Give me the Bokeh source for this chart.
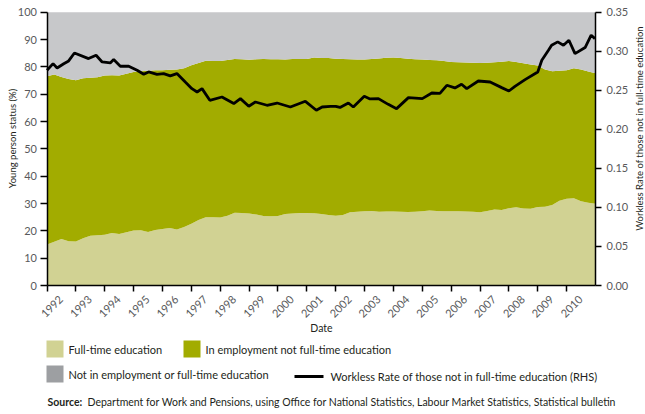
import numpy as np
from bokeh.plotting import figure
from bokeh.models import Range1d, LinearAxis, FixedTicker, NumeralTickFormatter, ColumnDataSource
from bokeh.core.properties import value
from bokeh.embed import file_html
from bokeh.resources import INLINE

FONT = "Lato"

# quarterly dates 1992 Q1 .. 2011 Q1
dates = np.arange(1992.0, 2011.01, 0.25)

fte = [15.0, 16.0, 17.0, 16.2,
       16.1, 17.3, 18.2, 18.4,
       18.6, 19.2, 18.8, 19.5,
       20.1, 20.2, 19.6, 20.3,
       20.7, 21.0, 20.5, 21.4,
       22.6, 24.0, 25.0, 25.0,
       24.9, 25.5, 26.6, 26.5,
       26.3, 26.0, 25.4, 25.3,
       25.4, 26.2, 26.3, 26.5,
       26.5, 26.4, 26.2, 25.8,
       25.5, 25.8, 26.8, 27.0,
       27.2, 27.3, 27.0, 27.1,
       27.1, 27.0, 26.9, 27.0,
       27.2, 27.4, 27.3, 27.2,
       27.2, 27.2, 27.1, 27.0,
       26.8, 27.3, 27.8, 27.6,
       28.3, 28.6, 28.2, 28.1,
       28.7, 28.8, 29.5, 31.0,
       31.7, 31.9, 30.8, 30.3,
       29.9]

emp = [61.6, 61.2, 59.3, 59.4,
       59.0, 58.5, 57.8, 57.8,
       58.2, 57.7, 58.0, 58.0,
       58.0, 58.2, 59.0, 58.5,
       58.1, 57.9, 58.5, 58.1,
       58.0, 57.4, 57.2, 57.1,
       57.2, 57.0, 56.3, 56.3,
       56.3, 56.8, 57.5, 57.5,
       57.4, 56.5, 56.6, 56.4,
       56.4, 57.0, 57.0, 57.4,
       57.5, 57.1, 56.0, 55.7,
       55.5, 55.6, 56.1, 56.2,
       56.3, 56.2, 56.1, 55.8,
       55.5, 55.1, 55.1, 54.9,
       54.6, 54.5, 54.5, 54.5,
       54.6, 54.2, 53.9, 54.3,
       53.8, 53.2, 53.1, 52.8,
       51.8, 50.2, 48.9, 47.6,
       47.1, 47.6, 48.2, 48.0,
       47.8]

neet = [23.4, 22.8, 23.7, 24.4,
        24.9, 24.2, 24.0, 23.8,
        23.2, 23.1, 23.2, 22.5,
        21.9, 21.6, 21.4, 21.2,
        21.2, 21.1, 21.0, 20.5,
        19.4, 18.6, 17.8, 17.9,
        17.9, 17.5, 17.1, 17.2,
        17.4, 17.2, 17.1, 17.2,
        17.2, 17.3, 17.1, 17.1,
        17.1, 16.6, 16.8, 16.8,
        17.0, 17.1, 17.2, 17.3,
        17.3, 17.1, 16.9, 16.7,
        16.6, 16.8, 17.0, 17.2,
        17.3, 17.5, 17.6, 17.9,
        18.2, 18.3, 18.4, 18.5,
        18.6, 18.5, 18.3, 18.1,
        17.9, 18.2, 18.7, 19.1,
        19.5, 21.0, 21.6, 21.4,
        21.2, 20.5, 21.0, 21.7,
        22.3]

workless_dates = [1992.00, 1992.21, 1992.35, 1992.58, 1992.75, 1992.95, 1993.44, 1993.70,
                  1993.91, 1994.19, 1994.31, 1994.54, 1994.83, 1995.12, 1995.35, 1995.52,
                  1995.81, 1996.04, 1996.27, 1996.50, 1996.79, 1997.02, 1997.20, 1997.37,
                  1997.64, 1998.06, 1998.47, 1998.70, 1998.99, 1999.22, 1999.62, 1999.97,
                  2000.43, 2000.95, 2001.33, 2001.53, 2001.82, 2002.00, 2002.15, 2002.44,
                  2002.61, 2002.99, 2003.19, 2003.48, 2003.82, 2004.11, 2004.52, 2005.00,
                  2005.33, 2005.61, 2005.85, 2006.13, 2006.36, 2006.54, 2006.94, 2007.35,
                  2007.75, 2008.00, 2008.21, 2008.56, 2009.00, 2009.14, 2009.37, 2009.48,
                  2009.69, 2009.89, 2010.08, 2010.29, 2010.64, 2010.85, 2010.98]
workless = [0.2756, 0.2842, 0.2786, 0.2840, 0.2876, 0.2978, 0.2906, 0.2949,
            0.2863, 0.2850, 0.2893, 0.2808, 0.2808, 0.2756, 0.2705, 0.2735,
            0.2705, 0.2714, 0.2684, 0.2714, 0.2606, 0.2521, 0.2478, 0.2521,
            0.2372, 0.2414, 0.2330, 0.2393, 0.2295, 0.2350, 0.2308, 0.2337,
            0.2286, 0.2359, 0.2244, 0.2286, 0.2295, 0.2295, 0.2280, 0.2337,
            0.2286, 0.2423, 0.2389, 0.2393, 0.2320, 0.2265, 0.2406, 0.2393,
            0.2465, 0.2460, 0.2564, 0.2530, 0.2577, 0.2521, 0.2619, 0.2606,
            0.2534, 0.2491, 0.2551, 0.2637, 0.2735, 0.2885, 0.3013, 0.3077,
            0.3120, 0.3077, 0.3141, 0.2970, 0.3047, 0.3205, 0.3162]

year_ticks = list(range(1992, 2011))
year_labels = [str(y) for y in year_ticks]
left_ticks = list(range(0, 101, 10))
right_ticks = [0.0, 0.05, 0.10, 0.15, 0.20, 0.25, 0.30, 0.35]

x_title = "Date"
left_title = "Young person status (%)"
right_title = "Workless Rate of those not in full-time education"
series_names = ["Full-time education", "In employment not full-time education",
                "Not in employment or full-time education"]
line_name = "Workless Rate of those not in full-time education (RHS)"
source_lead = "Source:"
source_text = ("Department for Work and Pensions, using Office for National Statistics, "
               "Labour Market Statistics, Statistical bulletin")

C_FTE = "#d1d293"
C_EMP = "#a2ac00"
C_NEET = "#c7c8ca"
C_NEET_KEY = "#9d9fa2"
TICK_C = "#58595b"
TEXT_C = "#231f20"

# ---- canvas geometry (pixels) : the plotting frame fills the whole canvas ----
W, H = 645, 414
PLOT_L, PLOT_R, PLOT_T, PLOT_B = 46.5, 595.0, 11.7, 285.0
X0, X1 = 1992, 2011
XS = (PLOT_R - PLOT_L) / (X1 - X0)
YS = (PLOT_B - PLOT_T) / 100.0
RHS_MAX = 0.35


def px_x(px):
    return X0 + (px - PLOT_L) / XS


def py_y(py):
    return (PLOT_B - py) / YS


p = figure(width=W, height=H, x_range=Range1d(px_x(0), px_x(W)),
           y_range=Range1d(py_y(H), py_y(0)),
           output_backend="svg", toolbar_location=None,
           min_border_left=0, min_border_right=0, min_border_top=0, min_border_bottom=0)
p.title.visible = False
p.extra_y_ranges = {"rhs": Range1d(py_y(H) * RHS_MAX / 100, py_y(0) * RHS_MAX / 100)}
p.grid.visible = False
p.outline_line_color = None

src = ColumnDataSource(dict(x=dates, fte=fte, emp=emp, neet=neet))
areas = p.varea_stack(stackers=["fte", "emp", "neet"], x="x", source=src,
                      color=[C_FTE, C_EMP, C_NEET])
p.line(workless_dates, workless, y_range_name="rhs", line_color="black", line_width=2.8)

# ---- axes fixed at the data edges ----
xa = p.xaxis[0]
xa.fixed_location = 0
xa.bounds = (X0, X1)
xa.ticker = FixedTicker(ticks=year_ticks)
xa.major_label_overrides = {y: "" for y in year_ticks}
xa.major_tick_out = 6

ya = p.yaxis[0]
ya.fixed_location = X0
ya.bounds = (0, 100)
ya.ticker = FixedTicker(ticks=left_ticks)
ya.major_tick_out = 7
ya.major_label_standoff = 3

rax = LinearAxis(y_range_name="rhs", fixed_location=X1, bounds=(0, RHS_MAX))
rax.ticker = FixedTicker(ticks=right_ticks)
rax.formatter = NumeralTickFormatter(format="0.00")
rax.major_tick_out = 6
rax.major_label_standoff = 5
p.add_layout(rax, "right")

for ax in [xa, ya, rax]:
    ax.axis_line_color = "black"
    ax.axis_line_width = 1.5
    ax.major_tick_line_color = "black"
    ax.major_tick_line_width = 1.5
    ax.major_tick_in = 0
    ax.minor_tick_line_color = None
    ax.major_label_text_font = FONT
    ax.major_label_text_font_size = "11px"
    ax.major_label_text_color = TICK_C

# slanted year labels, hung below each tick
p.text(x=year_ticks, y=[0] * len(year_ticks), text=year_labels, angle=np.pi / 4,
       x_offset=5, y_offset=21, text_font=value(FONT), text_font_size="11px",
       text_color=TICK_C, text_align="center", text_baseline="middle")

# axis titles
p.text(x=[px_x(321)], y=[py_y(327.5)], text=[x_title],
       text_font=value(FONT), text_font_size="10.5px", text_color=TEXT_C,
       text_align="center", text_baseline="middle")
p.text(x=[px_x(12)], y=[py_y(138)], text=[left_title], angle=np.pi / 2,
       text_font=value(FONT), text_font_size="9.5px", text_color=TEXT_C,
       text_align="center", text_baseline="middle")
p.text(x=[px_x(639)], y=[py_y(128)], text=[right_title], angle=np.pi / 2,
       text_font=value(FONT), text_font_size="9.5px", text_color=TEXT_C,
       text_align="center", text_baseline="middle")

# ---- key ----
p.quad(left=[px_x(46), px_x(183), px_x(46)], right=[px_x(63), px_x(200), px_x(63)],
       top=[py_y(340), py_y(340), py_y(365)], bottom=[py_y(357), py_y(357), py_y(382)],
       fill_color=[C_FTE, C_EMP, C_NEET_KEY], line_color=None)
p.line([px_x(294), px_x(323)], [py_y(376), py_y(376)], line_color="black", line_width=3)
p.text(x=[px_x(68), px_x(205), px_x(68), px_x(330)],
       y=[py_y(348.5), py_y(348.5), py_y(373.5), py_y(376)],
       text=[series_names[0], series_names[1], series_names[2], line_name],
       text_font=value(FONT), text_font_size="11px", text_color=TEXT_C,
       text_baseline="middle", text_align="left")

# ---- source ----
p.text(x=[px_x(47)], y=[py_y(401)], text=[source_lead], text_font=value(FONT),
       text_font_size="10.5px", text_font_style="bold", text_color=TEXT_C,
       text_baseline="middle")
p.text(x=[px_x(87)], y=[py_y(401)], text=[source_text], text_font=value(FONT),
       text_font_size="10.5px", text_color=TEXT_C, text_baseline="middle")

open("out.html", "w").write(file_html(p, INLINE))
